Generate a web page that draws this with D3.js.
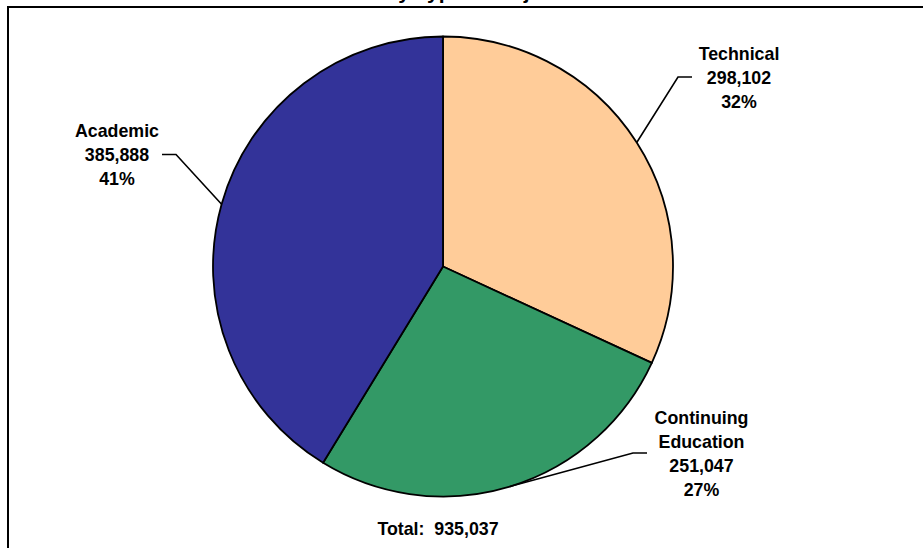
<!DOCTYPE html>
<html>
<head>
<meta charset="utf-8">
<script src="https://cdn.jsdelivr.net/npm/d3@7"></script>
<style>
  html, body { margin: 0; padding: 0; background: #fff; overflow: hidden; }
  svg { display: block; }
  text { font-family: "Liberation Sans", Arial, sans-serif; font-weight: bold; fill: #000; }
</style>
</head>
<body>
<svg id="chart" width="923" height="548"></svg>
<script>
// ---- data ----
const categories = ["Technical", "Continuing Education", "Academic"];
const values = [298102, 251047, 385888];
const colors = ["#FFCC99", "#339966", "#333399"];
const titleText = "by Type of Major";
const totalLabel = "Total:";

// ---- layout ----
const W = 923, H = 548;
const cx = 443, cy = 266.5, R = 230;
// label text anchor (center x, first baseline) and leader elbow per slice
const labelLayout = [
  { x: 739, y: 60, elbowX: 678, endX: 692, lineY: 77 },
  { x: 701.5, y: 424, elbowX: 633, endX: 647, lineY: 453 },
  { x: 117, y: 137, elbowX: 176, endX: 162, lineY: 154.5 }
];
const lineH = 24;
const fontPx = "17.8px";

const svg = d3.select("#chart");

// border (chart area extends beyond viewport to right / bottom)
svg.append("rect")
  .attr("x", 8).attr("y", 7)
  .attr("width", 1000).attr("height", 1000)
  .attr("fill", "none").attr("stroke", "#000").attr("stroke-width", 2);

// title (mostly clipped above, as in the reference)
svg.append("text")
  .attr("x", 468).attr("y", -1)
  .attr("text-anchor", "middle")
  .style("font-size", "21px")
  .text(titleText);

const total = d3.sum(values);
const data = categories.map((c, i) => ({ name: c, value: values[i], color: colors[i], i }));

const pie = d3.pie().value(d => d.value).sort(null);
const arcs = pie(data);
const arc = d3.arc().innerRadius(0).outerRadius(R);

const g = svg.append("g").attr("transform", `translate(${cx},${cy})`);

g.selectAll("path.slice")
  .data(arcs)
  .join("path")
  .attr("class", "slice")
  .attr("d", arc)
  .attr("fill", d => d.data.color)
  .attr("stroke", "#000")
  .attr("stroke-width", 1.8)
  .attr("stroke-linejoin", "round");

// leader lines
arcs.forEach((a, i) => {
  const L = labelLayout[i];
  const mid = (a.startAngle + a.endAngle) / 2;
  const px = cx + R * Math.sin(mid);
  const py = cy - R * Math.cos(mid);
  svg.append("polyline")
    .attr("points", `${px},${py} ${L.elbowX},${L.lineY} ${L.endX},${L.lineY}`)
    .attr("fill", "none")
    .attr("stroke", "#000")
    .attr("stroke-width", 1.6);
});

// labels
const fmt = d3.format(",");
arcs.forEach((a, i) => {
  const L = labelLayout[i];
  const nameLines = a.data.name === "Continuing Education" ? ["Continuing", "Education"] : [a.data.name];
  const lines = nameLines.concat([fmt(a.data.value), Math.round(a.data.value / total * 100) + "%"]);
  const t = svg.append("text")
    .attr("text-anchor", "middle")
    .style("font-size", fontPx);
  lines.forEach((s, k) => {
    t.append("tspan").attr("x", L.x).attr("y", L.y + k * lineH).text(s);
  });
});

// total
svg.append("text")
  .attr("x", 438).attr("y", 535)
  .attr("text-anchor", "middle")
  .style("font-size", fontPx)
  .style("white-space", "pre")
  .attr("xml:space", "preserve")
  .text(totalLabel + "  " + fmt(total));
</script>
</body>
</html>
